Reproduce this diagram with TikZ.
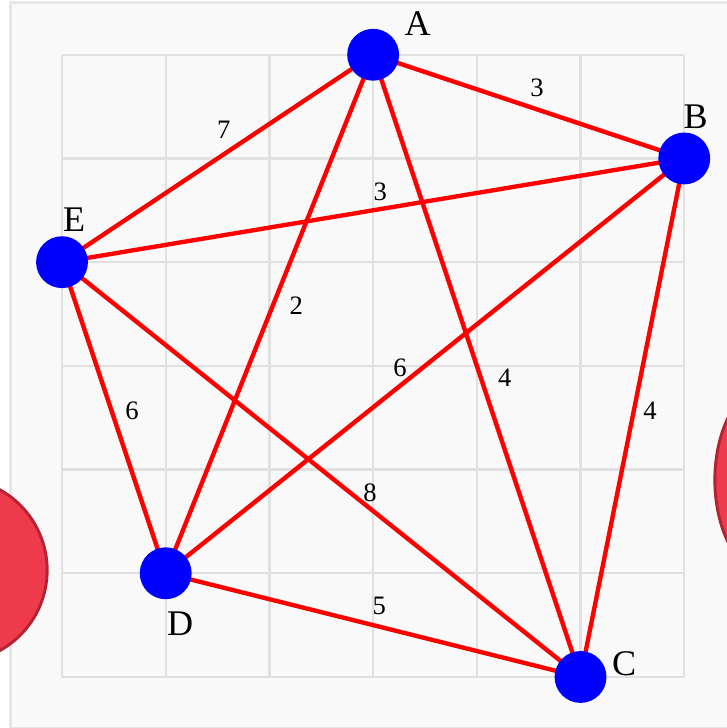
\documentclass[tikz,border=0pt]{standalone}
\usepackage{fontspec}
\setmainfont{Liberation Serif}
\usetikzlibrary{positioning}
\definecolor{panel}{HTML}{F9F9F9}
\definecolor{panelline}{HTML}{E6E6E6}
\definecolor{gridline}{HTML}{E0E0E0}
\definecolor{blob}{HTML}{EE3A4A}
\definecolor{blobline}{HTML}{B42334}
\pgfdeclarelayer{front}
\pgfsetlayers{main,front}
\tikzset{
  vertex/.style={circle,fill=blue,inner sep=0pt,minimum size=0.5cm},
  vname/.style={font=\fontsize{9.9}{12}\selectfont,inner sep=0pt},
  link/.style={draw=red,line width=1.2pt},
  weight/.style={font=\fontsize{7.3}{9}\selectfont,inner sep=0pt},
  blobshape/.style={fill=blob,draw=blobline,line width=0.8pt}
}

\begin{document}
\begin{tikzpicture}
    \useasboundingbox (-0.598,-0.492) rectangle (6.403,6.528);
    \draw[fill=panel,draw=panelline,line width=0.8pt] (-0.5,-0.5) rectangle (6.6,6.5);
    \draw[gridline,line width=0.6pt] (0,0) grid (6,6);
    \draw[blobshape] (-1.03,1.03) circle (0.887);
    \draw[blobshape] (6.875,1.90) ellipse (0.58 and 0.96);
    \begin{pgfonlayer}{front}
      \node[vertex] (A) at (3,6) {};
      \node[vertex] (B) at (6,5) {};
      \node[vertex] (C) at (5,0) {};
      \node[vertex] (D) at (1,1) {};
      \node[vertex] (E) at (0,4) {};
    \end{pgfonlayer}
    \foreach \a/\b in {A/B,A/E,E/B,A/D,B/D,A/C,B/C,E/D,E/C,D/C}{\draw[link] (\a.center) -- (\b.center);}
    \node[vname] (Aname) at (3.43,6.30) {A};
    \node[vname] (Bname) at (6.11,5.40) {B};
    \node[vname] (Cname) at (5.42,0.125) {C};
    \node[vname] (Dname) at (1.14,0.51) {D};
    \node[vname] (Ename) at (0.116,4.41) {E};
    \foreach \e/\w/\p in {AB/3/{4.58,5.68},AE/7/{1.56,5.28},EB/3/{3.07,4.68},
        AD/2/{2.26,3.58},BD/6/{3.26,2.98},AC/4/{4.27,2.89},BC/4/{5.67,2.57},
        ED/6/{0.675,2.57},EC/8/{2.97,1.78},DC/5/{3.06,0.685}}
      {\node[weight] (w\e) at (\p) {\w};}
\end{tikzpicture}
\end{document}
